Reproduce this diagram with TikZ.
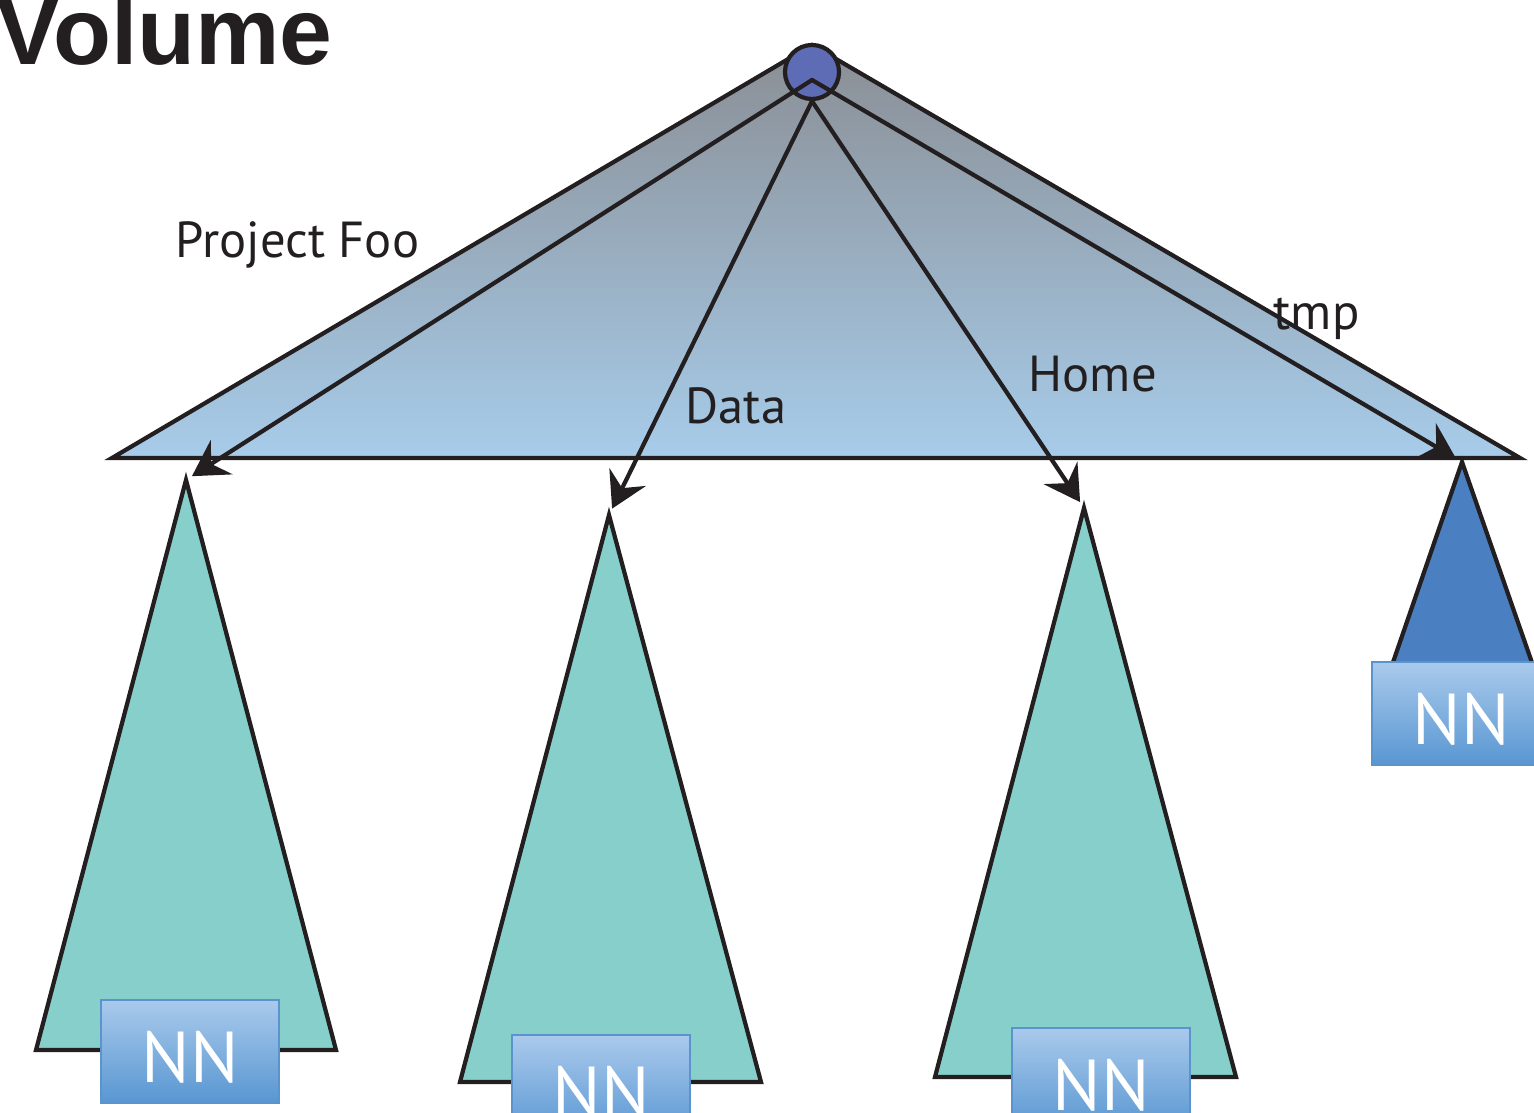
\documentclass[tikz,border=0pt]{standalone}
\usepackage{fontspec}
\setmainfont{PT Sans}
\newfontfamily\headfont{Liberation Sans}
\usetikzlibrary{arrows.meta,positioning}

\definecolor{volgray}{HTML}{8A8E94}
\definecolor{volblue}{HTML}{A7CCEA}
\definecolor{leafteal}{HTML}{86CFCA}
\definecolor{tmpblue}{HTML}{4A80C2}
\definecolor{rootblue}{HTML}{5E6CB6}
\definecolor{nntop}{HTML}{AACAEC}
\definecolor{nnbot}{HTML}{5896D2}
\definecolor{nnedge}{HTML}{5B93CC}
\definecolor{ink}{HTML}{231F20}

\begin{document}
\begin{tikzpicture}[x=0.01cm,y=-0.01cm,>={Stealth[length=10pt,width=11.5pt,inset=3.5pt]}]
\tikzstyle{tree}=[draw=ink, line width=1.2pt]
\tikzstyle{sub}=[tree, fill=leafteal]
\tikzstyle{link}=[->, draw=ink, line width=1.2pt, line cap=round, shorten >=2pt]
\tikzstyle{nn}=[draw=nnedge, line width=0.8pt, top color=nntop, bottom color=nnbot, minimum width=1.78cm, minimum height=1.03cm, inner sep=0pt, text height=17.6pt, text depth=0pt, text=white, font=\fontsize{20.5}{20}\selectfont]
\tikzstyle{lbl}=[anchor=base west, inner sep=0pt, text=ink, font=\fontsize{14.4}{16}\selectfont]

\useasboundingbox (0,0) rectangle (1534,1113);

% volume namespace
\draw[tree, top color=volgray, bottom color=volblue] (112,458) -- (812,45) -- (1520,458) -- cycle;

% sub trees
\coordinate (foo) at (186,480);
\coordinate (data) at (609,515);
\coordinate (home) at (1084,508);
\coordinate (tmp) at (1462,462);
\draw[sub] (foo) -- (36,1050) -- (336,1050) -- cycle;
\draw[sub] (data) -- (460,1082) -- (761,1082) -- cycle;
\draw[sub] (home) -- (935,1077) -- (1236,1077) -- cycle;
\draw[tree, fill=tmpblue] (tmp) -- (1380,700) -- (1545,700) -- cycle;

% root
\node[circle, draw=ink, line width=1.2pt, fill=rootblue, minimum size=0.54cm, inner sep=0pt] (root) at (812,72) {};
\coordinate (vtx) at (812,80);

\draw[link] (vtx) -- (foo);
\draw[link] (root.south) -- (data);
\draw[link] (root.south) -- (home);
\draw[link] (vtx) -- (tmp);

% labels
\node[lbl] (lblfoo) at (175,258) {Project Foo};
\node[lbl] (lbldata) at (685,424) {Data};
\node[lbl] (lblhome) at (1028,392) {Home};
\node[lbl] (lbltmp) at (1273,330) {tmp};

\node[anchor=base west, inner sep=0pt, text=ink, font=\headfont\bfseries\fontsize{27}{27}\selectfont] (title) at (-4,65) {Volume};

% name nodes
\node[nn] (nn1) at (190,1051.5) {NN};
\node[nn] (nn2) at (601,1086.5) {NN};
\node[nn] (nn3) at (1101,1079.5) {NN};
\node[nn] (nn4) at (1461,713.5) {NN};
\end{tikzpicture}
\end{document}
